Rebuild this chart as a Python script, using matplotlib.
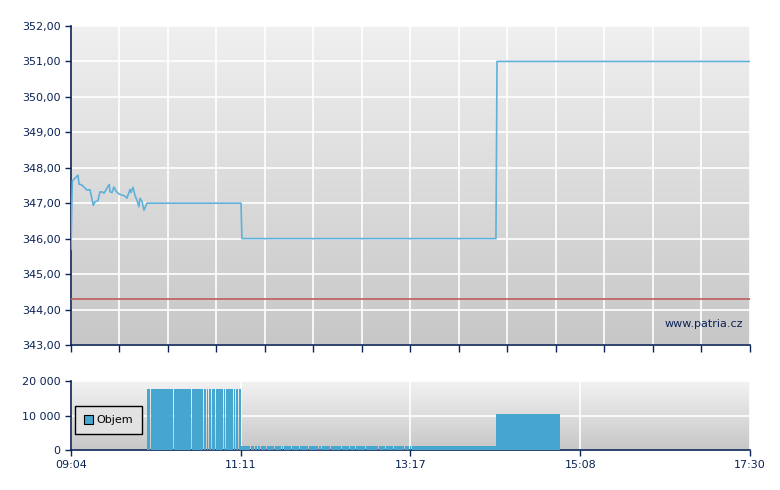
import numpy as np
import matplotlib
matplotlib.use("Agg")
from matplotlib import pyplot as plt
from matplotlib.ticker import FuncFormatter

# price: minutes after 09:04 and price
price_t = [0, 1.0, 5.2, 6.0, 8.2, 10.4, 11.9, 14.2, 16.6, 17.9, 20.1, 21.6, 23.8, 24.6,
           28.5, 29.1, 30.6, 32.0, 33.5, 35.8, 38.0, 40.2, 41.7, 44.0, 44.7, 46.2, 47.7,
           49.2, 50.7, 51.4, 52.9, 54.4, 56.6, 126.7, 127.4, 316.7, 317.5, 506]
price_v = [345.7, 347.63, 347.79, 347.54, 347.51, 347.43, 347.37, 347.38, 346.94, 347.04,
           347.07, 347.32, 347.31, 347.28, 347.53, 347.32, 347.30, 347.46, 347.34, 347.26,
           347.23, 347.20, 347.14, 347.39, 347.30, 347.45, 347.22, 347.08, 346.90, 347.14,
           347.05, 346.80, 347.00, 347.00, 346.00, 346.00, 351.00, 351.00]
ref_price = 344.3

# volume blocks: (start, end, volume) in minutes after 09:04, cut by short pauses
vol_blocks = [(56.6, 126.5, 17800), (126.7, 316.7, 1300), (316.7, 364.4, 10500)]
vol_cuts = [[58.6, 76.2, 89.2, 98.4, 100.6, 102.3, 104.3, 107.3, 113.3, 114.8, 120.7,
             122.2, 124.2],
            [133.4, 136.4, 138.6, 140.8, 145.3, 151.3, 156.5, 158.0, 163.9, 169.9, 176.6,
             184.1, 186.3, 193.0, 201.2, 207.2, 211.6, 219.1, 228.8, 234.0, 240.0, 248.1,
             251.9, 253.4],
            []]

t_end = 506
xlabels = ['09:04', '11:11', '13:17', '15:08', '17:30']

navy = '#0b2356'
line_col = '#5fb1da'
bar_col = '#46a6cf'

plt.rcParams['font.family'] = ['DejaVu Sans']
fig = plt.figure(figsize=(7.8, 4.9), dpi=100)
ax = fig.add_axes([0.091, 0.296, 0.8705, 0.651])
axv = fig.add_axes([0.091, 0.0816, 0.8705, 0.1408])

grad = np.linspace(0, 1, 256).reshape(-1, 1)
for a, top in ((ax, 0.94), (axv, 0.95)):
    a.imshow(grad, cmap=matplotlib.colors.LinearSegmentedColormap.from_list(
        'bg', [(top, top, top), (0.78, 0.78, 0.78)]),
        extent=[0, 1, 0, 1], origin='upper', transform=a.transAxes, aspect='auto', zorder=0)
    for s in ('top', 'right'):
        a.spines[s].set_visible(False)
    for s in ('left', 'bottom'):
        a.spines[s].set_color(navy)
        a.spines[s].set_linewidth(1.2)
    a.tick_params(colors=navy, labelsize=8, length=4, width=1)
    a.set_xlim(0, t_end)

# price chart
ax.set_ylim(343, 352)
ax.set_yticks(np.arange(343, 353))
ax.yaxis.set_major_formatter(FuncFormatter(lambda v, p: f'{v:.2f}'.replace('.', ',')))
ax.set_xticks(np.linspace(0, t_end, 15))
ax.set_xticklabels([])
ax.tick_params(axis='x', length=5)
ax.grid(True, color='white', linewidth=1.2, zorder=1)
ax.set_axisbelow(True)
ax.axhline(ref_price, color='#c26464', linewidth=1.3, zorder=3)
ax.plot(price_t, price_v, color=line_col, linewidth=1.2, zorder=4)
ax.text(0.99, 0.065, 'www.patria.cz', transform=ax.transAxes, ha='right', va='center',
        color=navy, fontsize=8)

# volume chart
first = True
for (t0, t1, v), cuts in zip(vol_blocks, vol_cuts):
    edges = [t0] + cuts + [t1]
    for i in range(len(edges) - 1):
        left = edges[i] + (0.75 if i > 0 else 0)
        axv.bar(left, v, width=edges[i + 1] - left, align='edge', color=bar_col,
                linewidth=0, zorder=3, antialiased=False,
                label='Objem' if first else None)
        first = False
axv.set_ylim(0, 20000)
axv.set_yticks([0, 10000, 20000])
axv.yaxis.set_major_formatter(FuncFormatter(lambda v, p: f'{int(v):,}'.replace(',', ' ')))
axv.set_xticks(np.linspace(0, t_end, 5))
axv.set_xticklabels(xlabels)
axv.grid(True, color='white', linewidth=1.2, zorder=1)
axv.set_axisbelow(True)
leg = axv.legend(loc='center left', bbox_to_anchor=(0.0, 0.43), fontsize=8,
                 fancybox=False, framealpha=1, handlelength=0.8, handleheight=0.8,
                 borderpad=0.8, handletextpad=0.3, borderaxespad=0.4)
leg.get_frame().set_facecolor('#e2e2e2')
leg.get_frame().set_edgecolor('black')
for h in leg.legend_handles:
    h.set_edgecolor('black')
    h.set_linewidth(0.8)

fig.savefig('out.png', dpi=100)
